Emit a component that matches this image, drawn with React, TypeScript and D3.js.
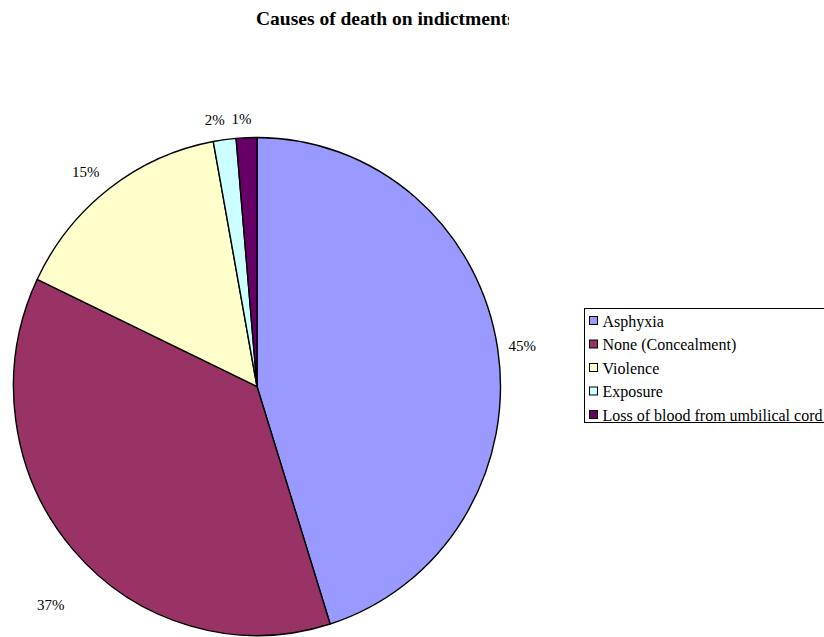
import React from "react";
import * as d3 from "d3";

const categories = ["Asphyxia", "None (Concealment)", "Violence", "Exposure", "Loss of blood from umbilical cord"];
const counts = [33, 27, 11, 1.1, 1];
const colors = ["#9999FF", "#993366", "#FFFFCC", "#CCFFFF", "#660066"];
const title = "Causes of death on indictments";

const W = 824;
const H = 637;
const cx = 257;
const cy = 386.5;
const rx = 243.5;
const ry = 249;
const FONT = "Liberation Serif, Times New Roman, serif";
// layout only: radial factor and pixel nudges for percentage labels
const labelK = 1.09;
const labelNudge: [number, number][] = [[3, 1], [-6, 40.5], [-10, 1], [-7, 3], [-4, 3.5]];

export default function App() {
  const total = d3.sum(counts);
  const pie = d3.pie<number>().sort(null).value((d) => d)(counts);
  const arc = d3.arc<d3.PieArcDatum<number>>().innerRadius(0).outerRadius(ry);
  const fmt = (v: number) => `${Math.round((v / total) * 100)}%`;
  const legendY = d3.scalePoint<string>().domain(categories).range([321, 415]);

  return (
    <div style={{ position: "absolute", left: 0, top: 0 }}>
      <svg width={W} height={H} style={{ display: "block", background: "#fff" }}>
        <defs>
          <clipPath id="titleClip">
            <rect x={0} y={0} width={509} height={40} />
          </clipPath>
        </defs>
        <text
          x={256}
          y={25}
          clipPath="url(#titleClip)"
          fontFamily={FONT}
          fontWeight="bold"
          fontSize={19.5}
          fill="#000"
        >
          {title}
        </text>
        <g transform={`translate(${cx},${cy}) scale(${rx / ry},1)`}>
          {pie.map((p, i) => (
            <path
              key={i}
              d={arc(p) || ""}
              fill={colors[i]}
              stroke="#000"
              strokeWidth={1.4}
              vectorEffect="non-scaling-stroke"
              strokeLinejoin="round"
            />
          ))}
        </g>
        {pie.map((p, i) => {
          const a = (p.startAngle + p.endAngle) / 2;
          const x = cx + Math.sin(a) * rx * labelK + labelNudge[i][0];
          const y = cy - Math.cos(a) * ry * labelK + labelNudge[i][1];
          return (
            <text
              key={i}
              x={x}
              y={y}
              textAnchor="middle"
              dominantBaseline="central"
              fontFamily={FONT}
              fontSize={15}
              fill="#000"
            >
              {fmt(p.data)}
            </text>
          );
        })}
        <rect x={584.5} y={308.5} width={300} height={114} fill="#fff" stroke="#000" strokeWidth={1} />
        {categories.map((c, i) => {
          const y = legendY(c) as number;
          return (
            <g key={c}>
              <rect x={589.5} y={y - 4.5} width={8} height={8} fill={colors[i]} stroke="#000" strokeWidth={1} />
              <text
                x={602.5}
                y={y}
                dominantBaseline="central"
                fontFamily={FONT}
                fontSize={16}
                fill="#000"
              >
                {c}
              </text>
            </g>
          );
        })}
      </svg>
    </div>
  );
}
